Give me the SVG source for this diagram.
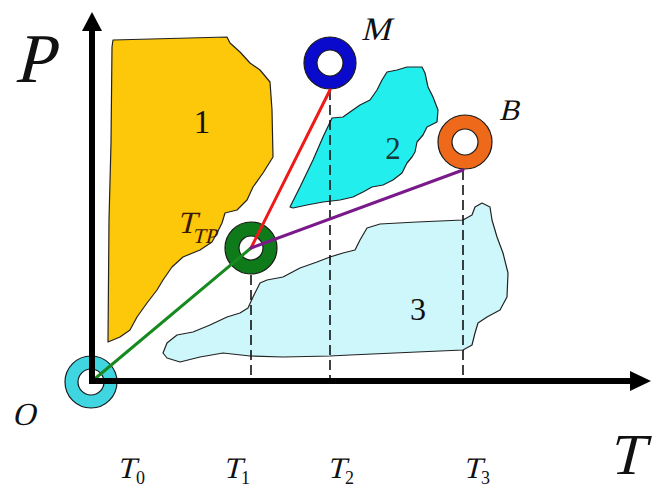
<svg xmlns="http://www.w3.org/2000/svg" width="661" height="488" viewBox="0 0 661 488">
<style>
.lbl{font-family:'Liberation Serif','DejaVu Serif',serif;fill:#111}
.num{font-family:'Liberation Serif','DejaVu Serif',serif;fill:#111}
.sub{font-family:'Liberation Serif','DejaVu Serif',serif;fill:#111}
.blob{stroke:#222;stroke-width:1.2;stroke-linejoin:round}
.dash{stroke:#111;stroke-width:1.6;stroke-dasharray:10,5;fill:none}
.conn{stroke-width:3;fill:none;stroke-linecap:round}
.ringo{stroke:#1a1a1a;stroke-width:1.2}
.ringi{fill:#fff;stroke:#1a1a1a;stroke-width:1.2}
.axis{stroke:#000;stroke-width:6;fill:none}
</style>
<rect width="661" height="488" fill="#fff"/>

<g id="region1">
<path class="blob" fill="#FDC70A" d="M113,40 L227,37 L230,43 L240,52 L250,63 L260,70 L270,82 L272,110 L273,157 L263,173 L253,187 L247,200 L237,210 L225,213 L222,223 L217,233 L212,242 L200,250 L183,257 L172,267 L163,280 L157,290 L147,303 L137,317 L130,330 L120,337 L108,342 L109,220 L111,143 L112,47 Z"/>
<text class="num" x="202" y="133" font-size="33" text-anchor="middle">1</text>
</g>

<g id="region2">
<path class="blob" fill="#22EEEE" d="M290,207 L300,187 L313,160 L323,137 L332,118 L343,117 L350,112 L360,105 L370,100 L377,90 L382,80 L387,72 L397,70 L407,67 L422,67 L425,73 L428,87 L433,97 L438,110 L437,122 L427,127 L423,135 L417,142 L415,152 L412,157 L407,163 L402,173 L393,180 L383,185 L372,187 L363,192 L353,197 L340,200 L323,202 L307,205 L293,208 Z"/>
<text class="num" x="393" y="159" font-size="31" text-anchor="middle" style="fill:#163a3a">2</text>
</g>

<g id="region3">
<path class="blob" fill="#CDF7FA" d="M163,353 L167,343 L177,335 L193,332 L210,325 L227,317 L240,313 L248,308 L253,297 L260,283 L267,280 L283,277 L300,268 L317,262 L330,257 L343,253 L355,250 L360,240 L367,228 L380,224 L417,222 L463,220 L472,215 L475,207 L482,203 L490,207 L492,220 L497,237 L503,253 L508,273 L507,297 L500,310 L487,317 L478,323 L475,333 L472,345 L463,350 L417,352 L350,355 L330,356 L283,357 L250,356 L223,353 L200,357 L180,362 L167,358 Z"/>
<text class="num" x="418" y="320" font-size="32" text-anchor="middle">3</text>
</g>

<g id="connectors">
<line class="dash" x1="251" y1="275" x2="251" y2="381"/>
<line class="dash" x1="330" y1="90" x2="330" y2="381"/>
<line class="dash" x1="463" y1="170" x2="463" y2="381"/>
</g>

<g id="node-O">
<circle class="ringo" cx="91" cy="382" r="26" fill="#3FD6E2"/>
<circle class="ringi" cx="91" cy="382" r="13"/>
</g>

<g id="node-TTP">
<circle class="ringo" cx="251" cy="248" r="26" fill="#0F7A1A"/>
<circle class="ringi" cx="251" cy="248" r="12"/>
<g transform="translate(177,233) skewX(-14)"><text class="lbl" font-size="31" style="fill:#3a1800">T</text></g>
<g transform="translate(192,243) skewX(-14)"><text class="lbl" font-size="21" style="fill:#3a1800">TP</text></g>
</g>

<g id="node-M">
<circle class="ringo" cx="330" cy="63" r="26" fill="#0A0ACC"/>
<circle class="ringi" cx="330" cy="63" r="13"/>
<g transform="translate(361,40) skewX(-14)"><text class="lbl" font-size="33" textLength="36">M</text></g>
</g>

<g id="node-B">
<circle class="ringo" cx="465" cy="142" r="27" fill="#EE6A1A"/>
<circle class="ringi" cx="465" cy="142" r="13"/>
<g transform="translate(499,120) skewX(-14)"><text class="lbl" font-size="30">B</text></g>
</g>

<g id="lines">
<line class="conn" x1="91" y1="382" x2="251" y2="248" stroke="#178A1F"/>
<line class="conn" x1="251" y1="248" x2="330" y2="90" stroke="#EE1A1A"/>
<line class="conn" x1="251" y1="248" x2="463" y2="170" stroke="#7A1A8A"/>
</g>

<g id="axes">
<line class="axis" x1="92" y1="28" x2="92" y2="384"/>
<line class="axis" x1="89" y1="381" x2="632" y2="381"/>
<polygon points="92,12 82,31 102,31" fill="#000"/>
<polygon points="651,381 630,371 630,391" fill="#000"/>
<g transform="translate(14,82) skewX(-14)"><text class="lbl" font-size="70">P</text></g>
<g transform="translate(608,474) skewX(-14)"><text class="lbl" font-size="58">T</text></g>
<g transform="translate(12,425) skewX(-14)"><text class="lbl" font-size="32">O</text></g>
</g>

<g id="ticks">
<g transform="translate(117,478) skewX(-14)"><text class="lbl" font-size="30">T</text></g><text class="sub" x="136" y="484" font-size="18">0</text>
<g transform="translate(223,478) skewX(-14)"><text class="lbl" font-size="30">T</text></g><text class="sub" x="241" y="484" font-size="18">1</text>
<g transform="translate(327,478) skewX(-14)"><text class="lbl" font-size="30">T</text></g><text class="sub" x="345" y="484" font-size="18">2</text>
<g transform="translate(463,478) skewX(-14)"><text class="lbl" font-size="30">T</text></g><text class="sub" x="481" y="484" font-size="18">3</text>
</g>
</svg>
